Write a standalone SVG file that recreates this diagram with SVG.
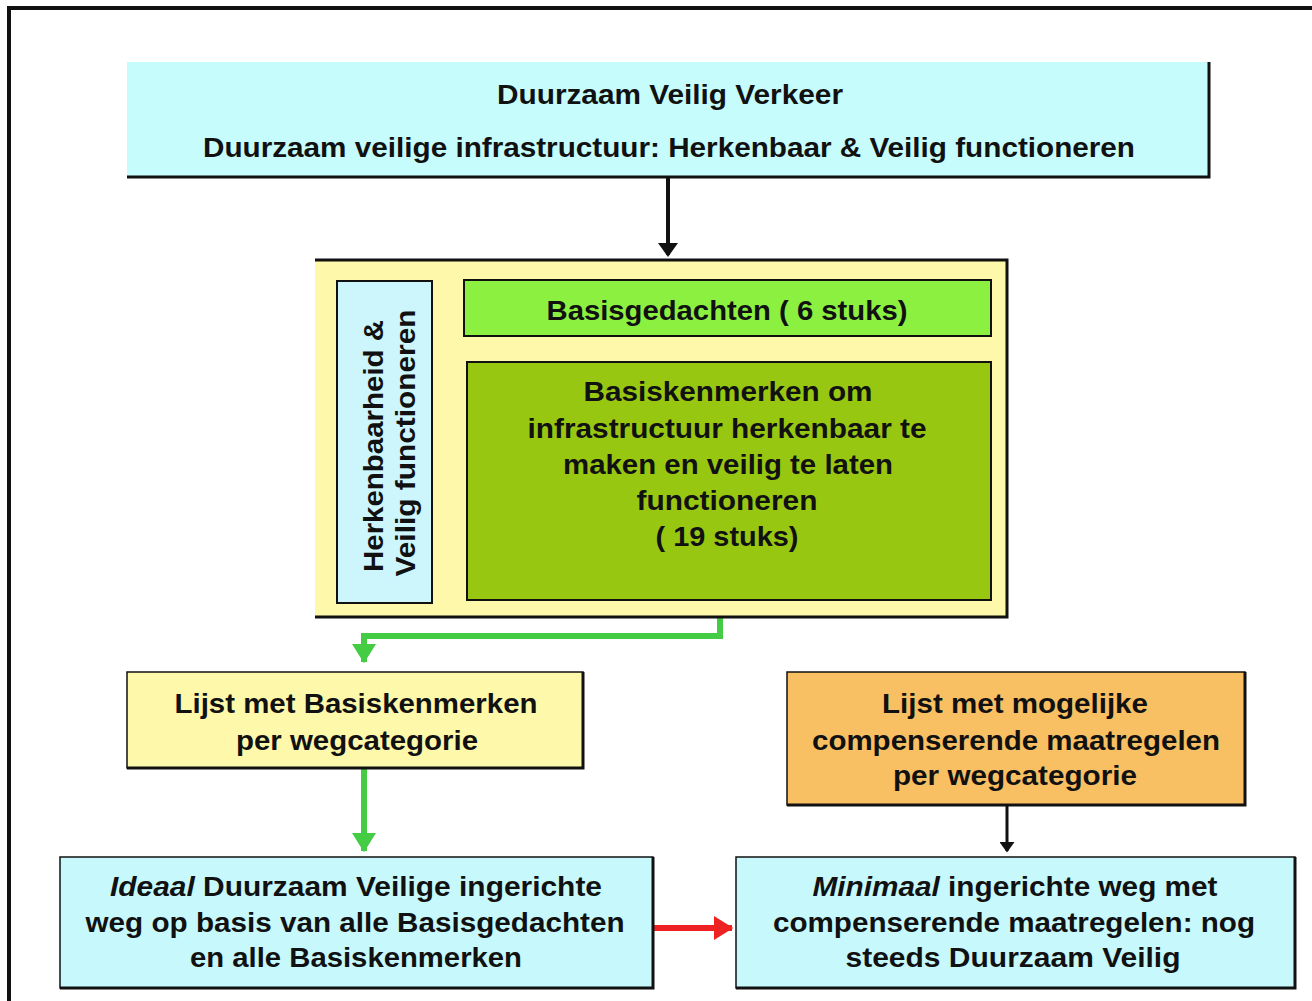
<svg xmlns="http://www.w3.org/2000/svg" width="1312" height="1001" viewBox="0 0 1312 1001">
<defs>
<style>
text{font-family:"Liberation Sans",Arial,sans-serif;font-weight:bold;font-size:27px;fill:#111;text-anchor:middle}
.edge{fill:none;stroke:#111;stroke-width:3}
.g{fill:none;stroke:#44cc44;stroke-width:6}
</style>
<marker id="ab" markerWidth="5" markerHeight="5" refX="3" refY="2.5" orient="auto" markerUnits="strokeWidth"><path d="M0,0 L3.5,2.5 L0,5 Z" fill="#111"/></marker>
<marker id="ag" markerWidth="4" markerHeight="4" refX="3" refY="2" orient="auto" markerUnits="strokeWidth"><path d="M0,0 L3.2,2 L0,4 Z" fill="#44cc44"/></marker>
<marker id="ar" markerWidth="4" markerHeight="4" refX="3" refY="2" orient="auto" markerUnits="strokeWidth"><path d="M0,0 L3.2,2 L0,4 Z" fill="#ee2222"/></marker>
</defs>
<rect width="1312" height="1001" fill="#fff"/>
<path d="M9,1001 V8 H1312" fill="none" stroke="#111" stroke-width="4"/>

<g id="connectors">
<line x1="668" y1="178" x2="668" y2="255" stroke="#111" stroke-width="4" marker-end="url(#ab)"/>
<path class="g" d="M720,600 V636 H364 V662" marker-end="url(#ag)"/>
<line class="g" x1="364" y1="769" x2="364" y2="851" marker-end="url(#ag)"/>
<line x1="1007" y1="806" x2="1007" y2="851" stroke="#111" stroke-width="3" marker-end="url(#ab)"/>
<line x1="654" y1="928" x2="732" y2="928" stroke="#ee2222" stroke-width="6" marker-end="url(#ar)"/>
</g>

<g id="top">
<rect x="127" y="62" width="1082" height="115" fill="#c6fcfc"/>
<path class="edge" d="M127,177 H1209 V62"/>
<text x="670" y="104" textLength="346" lengthAdjust="spacingAndGlyphs">Duurzaam Veilig Verkeer</text>
<text x="669" y="157" textLength="932" lengthAdjust="spacingAndGlyphs">Duurzaam veilige infrastructuur: Herkenbaar &amp; Veilig functioneren</text>
</g>

<g id="container">
<rect x="315" y="260" width="692" height="357" fill="#fdf8aa"/>
<path class="edge" d="M315,260 H1007 V617 H315"/>
</g>

<g id="herkenbaarheid">
<rect x="337" y="281" width="95" height="322" fill="#ccf6fc" stroke="#111" stroke-width="2"/>
<text transform="translate(383,446) rotate(-90)" textLength="252" lengthAdjust="spacingAndGlyphs">Herkenbaarheid &amp;</text>
<text transform="translate(415,443) rotate(-90)" textLength="267" lengthAdjust="spacingAndGlyphs">Veilig functioneren</text>
</g>

<g id="basisgedachten">
<rect x="464" y="280" width="527" height="56" fill="#8cf040" stroke="#111" stroke-width="2"/>
<text x="727" y="320" textLength="361" lengthAdjust="spacingAndGlyphs">Basisgedachten ( 6 stuks)</text>
</g>

<g id="basiskenmerken">
<rect x="467" y="362" width="524" height="238" fill="#98c712" stroke="#111" stroke-width="2"/>
<text x="728" y="401" textLength="289" lengthAdjust="spacingAndGlyphs">Basiskenmerken om</text>
<text x="727" y="438" textLength="399" lengthAdjust="spacingAndGlyphs">infrastructuur herkenbaar te</text>
<text x="728" y="474" textLength="330" lengthAdjust="spacingAndGlyphs">maken en veilig te laten</text>
<text x="727" y="510" textLength="181" lengthAdjust="spacingAndGlyphs">functioneren</text>
<text x="727" y="546" textLength="143" lengthAdjust="spacingAndGlyphs">( 19 stuks)</text>
</g>

<g id="lijst-basis">
<rect x="127" y="672" width="456" height="96" fill="#fdf8aa" stroke="#111" stroke-width="1.5"/>
<path class="edge" d="M127,768 H583 V672"/>
<text x="356" y="713" textLength="363" lengthAdjust="spacingAndGlyphs">Lijst met Basiskenmerken</text>
<text x="357" y="750" textLength="242" lengthAdjust="spacingAndGlyphs">per wegcategorie</text>
</g>

<g id="lijst-comp">
<rect x="787" y="672" width="458" height="133" fill="#f8c062" stroke="#111" stroke-width="1.5"/>
<path class="edge" d="M787,805 H1245 V672"/>
<text x="1015" y="713" textLength="266" lengthAdjust="spacingAndGlyphs">Lijst met mogelijke</text>
<text x="1016" y="750" textLength="408" lengthAdjust="spacingAndGlyphs">compenserende maatregelen</text>
<text x="1015" y="785" textLength="244" lengthAdjust="spacingAndGlyphs">per wegcategorie</text>
</g>

<g id="ideaal">
<rect x="60" y="857" width="593" height="131" fill="#c6f8fc" stroke="#111" stroke-width="1.5"/>
<path class="edge" d="M60,988 H653 V857"/>
<text x="356" y="896" textLength="492" lengthAdjust="spacingAndGlyphs"><tspan font-style="italic">Ideaal</tspan> Duurzaam Veilige ingerichte</text>
<text x="355" y="932" textLength="539" lengthAdjust="spacingAndGlyphs">weg op basis van alle Basisgedachten</text>
<text x="356" y="967" textLength="332" lengthAdjust="spacingAndGlyphs">en alle Basiskenmerken</text>
</g>

<g id="minimaal">
<rect x="736" y="857" width="559" height="131" fill="#c6f8fc" stroke="#111" stroke-width="1.5"/>
<path class="edge" d="M736,988 H1295 V857"/>
<text x="1015" y="896" textLength="405" lengthAdjust="spacingAndGlyphs"><tspan font-style="italic">Minimaal</tspan> ingerichte weg met</text>
<text x="1014" y="932" textLength="482" lengthAdjust="spacingAndGlyphs">compenserende maatregelen: nog</text>
<text x="1013" y="967" textLength="335" lengthAdjust="spacingAndGlyphs">steeds Duurzaam Veilig</text>
</g>
</svg>
